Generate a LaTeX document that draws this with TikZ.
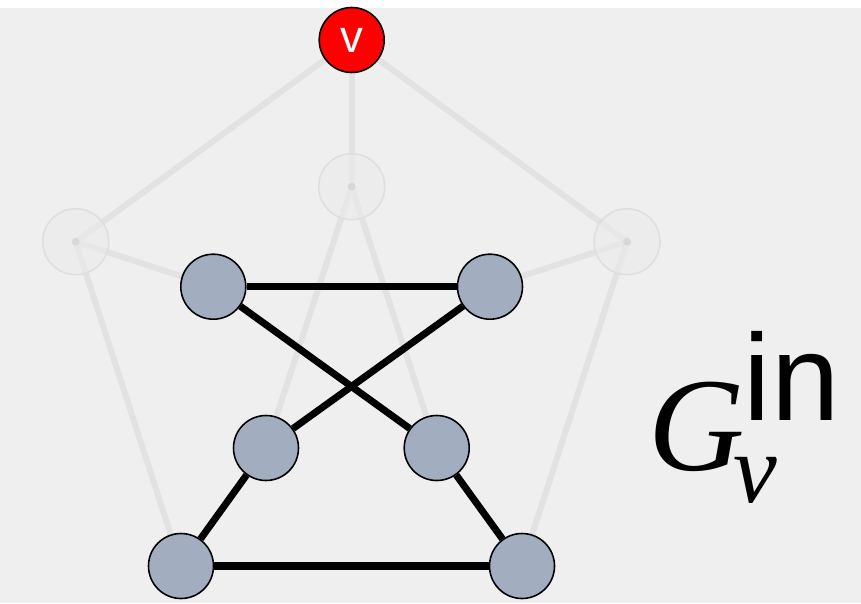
\documentclass[tikz,border=0pt]{standalone}
\usepackage{fontspec}
\usepackage{tikz}
\usetikzlibrary{positioning, backgrounds}
\usepackage{xcolor}
\newfontfamily\serifit{Liberation Serif}
\newfontfamily\plainsans{Liberation Sans}
\definecolor{Canvas}{HTML}{EFEFEF}
\definecolor{Slate}{HTML}{A2AEBF}
\definecolor{Root}{HTML}{FF0000}
\definecolor{Ghost}{HTML}{E2E2E2}
\definecolor{GhostFill}{HTML}{EBEBEB}
\definecolor{GhostRim}{HTML}{DFDFDF}
\definecolor{GhostDot}{HTML}{D8D8D8}

\begin{document}
\begin{tikzpicture}[
            vtx/.style={circle, draw=black, line width=0.45pt, fill=Slate, minimum size=0.65cm, inner sep=0pt},
            root/.style={vtx, fill=Root, text=white, font=\plainsans\fontsize{13}{14}\selectfont},
            ghost/.style={circle, draw=GhostRim, line width=0.45pt, fill=GhostFill, fill opacity=0.6, minimum size=0.66cm, inner sep=0pt},
            ghostedge/.style={line width=1.7pt, color=Ghost},
            edge/.style={line width=2pt, color=black}
        ]
            \useasboundingbox (0,0) rectangle (8.61,6.03);

            % Kept vertices
            \node[root] (v) at (3.517,5.63) {v};
            \node[vtx] (il) at (2.133,3.163) {};
            \node[vtx] (ir) at (4.90,3.163) {};
            \node[vtx] (ibl) at (2.66,1.55) {};
            \node[vtx] (ibr) at (4.367,1.55) {};
            \node[vtx] (bl) at (1.81,0.37) {};
            \node[vtx] (br) at (5.22,0.37) {};

            % Removed part of the graph
            \coordinate (gl) at (0.757,3.613);
            \coordinate (gt) at (3.517,4.163);
            \coordinate (gr) at (6.27,3.613);

            \begin{pgfonlayer}{background}
            \fill[Canvas] (0,0) rectangle (8.61,5.95);

            % Faded edges
            \draw[ghostedge] (v.center) -- (gl);
            \draw[ghostedge] (v.center) -- (gr);
            \draw[ghostedge] (v.center) -- (gt);
            \draw[ghostedge] (gl) -- (il.center);
            \draw[ghostedge] (gl) -- (bl.center);
            \draw[ghostedge] (gr) -- (ir.center);
            \draw[ghostedge] (gr) -- (br.center);
            \draw[ghostedge] (gt) -- (ibl.center);
            \draw[ghostedge] (gt) -- (ibr.center);
            \foreach \g in {gl,gt,gr}{
                \node[ghost] (\g c) at (\g) {};
                \fill[GhostDot] (\g) circle (0.04);
            }

            % Remaining edges
            \draw[edge] (il) -- (ir);
            \draw[edge] (il) -- (ibr);
            \draw[edge] (ir) -- (ibl);
            \draw[edge] (ibl) -- (bl);
            \draw[edge] (ibr) -- (br);
            \draw[edge] (bl) -- (br);
            \end{pgfonlayer}

            % Label
            \node[anchor=base west, inner sep=0pt, font=\serifit\itshape\fontsize{38}{40}\selectfont] (gname) at (6.48,1.33) {G};
            \node[anchor=base west, inner sep=0pt, font=\plainsans\fontsize{35}{40}\selectfont] (gsup) at (7.43,1.83) {in};
            \node[anchor=base west, inner sep=0pt, font=\serifit\itshape\fontsize{28}{30}\selectfont] (gsub) at (7.33,1.01) {v};
        \end{tikzpicture}
\end{document}
